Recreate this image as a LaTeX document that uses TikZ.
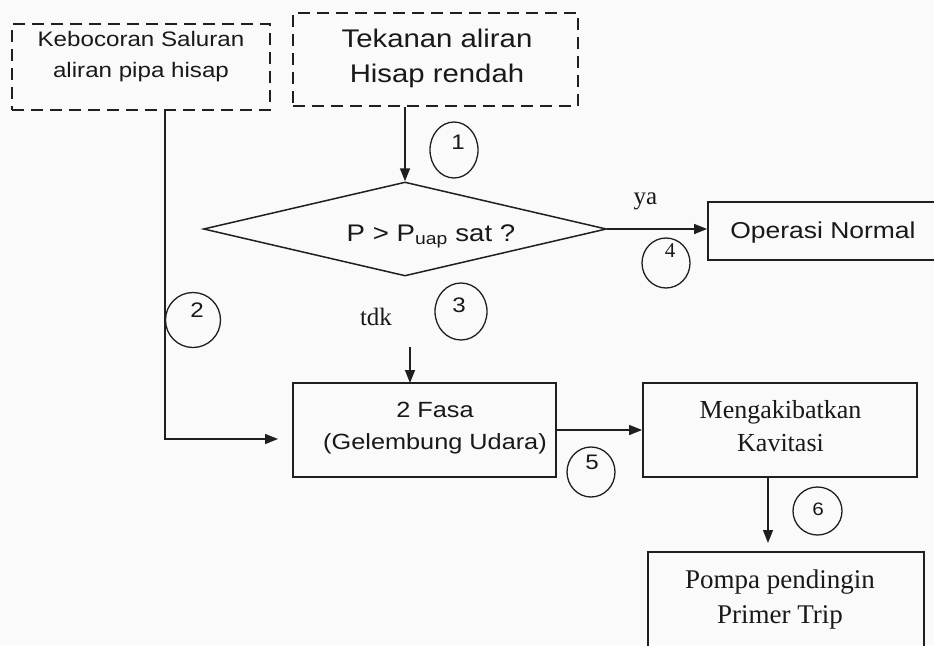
\documentclass[tikz,border=0pt]{standalone}
\usepackage{fontspec}
\setmainfont[FakeStretch=1.15]{Liberation Sans}
\newfontfamily\serifface{Liberation Serif}
\usetikzlibrary{arrows.meta,shapes.geometric}

\tikzset{
  ink/.style={draw=black!88},
  dashbox/.style={ink, line width=1.8pt, dash pattern=on 12pt off 7pt, inner sep=0pt},
  solidbox/.style={ink, line width=1.8pt, inner sep=0pt},
  decision/.style={ink, diamond, line width=1.5pt, inner sep=0pt},
  flow/.style={draw=black!88, line width=1.5pt, -{Triangle[length=13pt,width=10pt]}},
  ring/.style={ink, ellipse, line width=1.3pt, inner sep=0pt},
  sanslabel/.style={align=center, text=black!90, inner sep=0pt},
  seriflabel/.style={align=center, text=black!90, inner sep=0pt, font=\serifface},
  numlabel/.style={text=black!90, inner sep=0pt, font=\fontsize{21}{21}\selectfont},
}

\begin{document}
\begin{tikzpicture}[x=1pt,y=-1pt]
  % canvas
  \fill[black!2] (0,0) rectangle (934,645);
  \useasboundingbox (0,0) rectangle (934,645);
  \clip (0,0) rectangle (934,645);

  % cause boxes (dashed)
  \node[dashbox, minimum width=258pt, minimum height=86pt] (leak) at (141,67) {};
  \node[sanslabel, font=\fontsize{21}{31}\selectfont] (leakT) at (141,57)
    {Kebocoran Saluran\\aliran pipa hisap};

  \node[dashbox, minimum width=285pt, minimum height=93pt] (lowp) at (435.5,59.5) {};
  \node[sanslabel, font=\fontsize{25.5}{35}\selectfont] (lowpT) at (437,58)
    {Tekanan aliran\\Hisap rendah};

  % decision
  \node[decision, minimum width=403pt, minimum height=94pt] (dec) at (405,229) {};
  \node[sanslabel, anchor=base, font=\fontsize{24}{28}\selectfont] (decT) at (431,241)
    {P > P\textsubscript{uap} sat ?};

  % outcome boxes
  \node[solidbox, minimum width=242pt, minimum height=58pt] (normal) at (829,231) {};
  \node[sanslabel, anchor=base, font=\fontsize{23}{28}\selectfont] (normalT) at (823,238)
    {Operasi Normal};

  \node[solidbox, minimum width=263pt, minimum height=94pt] (phase) at (424.5,430) {};
  \node[sanslabel, font=\fontsize{22}{32}\selectfont] (phaseT) at (435,428.5)
    {2 Fasa\\(Gelembung Udara)};

  \node[solidbox, minimum width=274pt, minimum height=94pt] (cav) at (780,430) {};
  \node[seriflabel, font=\serifface\fontsize{26}{33}\selectfont] (cavT) at (780.5,426.6)
    {Mengakibatkan\\Kavitasi};

  \node[solidbox, minimum width=276pt, minimum height=128pt] (trip) at (786,616) {};
  \node[seriflabel, font=\serifface\fontsize{27}{35}\selectfont] (tripT) at (780,599.5)
    {Pompa pendingin\\Primer Trip};

  % connector end points
  \coordinate (leakdrop) at (165,110);
  \coordinate (leakin) at (278,439);
  \coordinate (noStart) at (410,347);
  \coordinate (noEnd) at (410,383);
  \coordinate (tripIn) at (768,543);

  % connectors
  \draw[flow] (dec.north |- lowp.south) -- (dec.north);
  \draw[flow] (dec.east) -- (normal.west |- dec.east);
  \draw[flow] (leakdrop) |- (leakin);
  \draw[flow] (noStart) -- (noEnd);
  \draw[flow] (phase.east) -- (cav.west);
  \draw[flow] (tripIn |- cav.south) -- (tripIn);

  % branch labels
  \node[seriflabel, anchor=base, font=\serifface\fontsize{25}{25}\selectfont] (yes) at (645.5,204) {ya};
  \node[seriflabel, anchor=base, font=\serifface\fontsize{25}{25}\selectfont] (no) at (376,325) {tdk};

  % step markers
  \node[ring, minimum width=48pt, minimum height=56pt] (r1) at (454,150) {};
  \node[numlabel] (n1) at (458,142) {1};
  \node[ring, minimum width=55pt, minimum height=55pt] (r2) at (193,320) {};
  \node[numlabel] (n2) at (197,310) {2};
  \node[ring, minimum width=52pt, minimum height=57pt] (r3) at (461,311.5) {};
  \node[numlabel] (n3) at (459,305) {3};
  \node[ring, minimum width=48pt, minimum height=50pt] (r4) at (666,263) {};
  \node[numlabel, font=\serifface\fontsize{21}{21}\selectfont] (n4) at (670,251) {4};
  \node[ring, minimum width=48pt, minimum height=50pt] (r5) at (591,472) {};
  \node[numlabel] (n5) at (592,462) {5};
  \node[ring, minimum width=49pt, minimum height=48pt] (r6) at (817.5,511) {};
  \node[numlabel, font=\fontsize{18}{18}\selectfont] (n6) at (818,509) {6};
\end{tikzpicture}
\end{document}
